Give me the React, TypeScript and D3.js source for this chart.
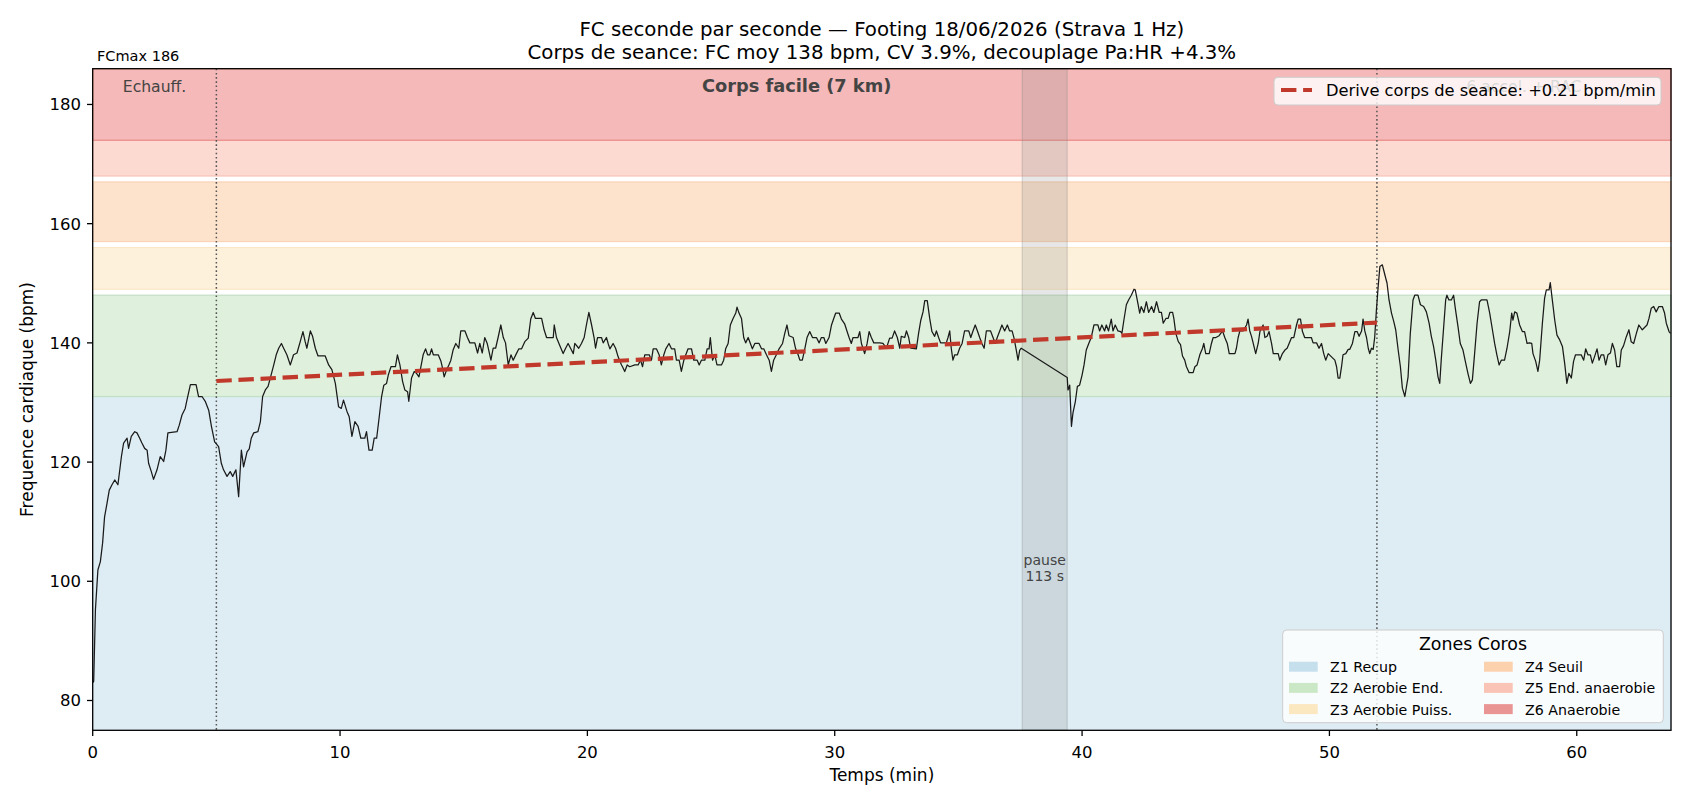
import React from "react";
import * as d3 from "d3";

// ---------- data ----------
const titleLines = [
  "FC seconde par seconde — Footing 18/06/2026 (Strava 1 Hz)",
  "Corps de seance: FC moy 138 bpm, CV 3.9%, decouplage Pa:HR +4.3%",
];
const xDomainMax = 63.81;
const yDomain: [number, number] = [75, 186];
const xTicks = [0, 10, 20, 30, 40, 50, 60];
const yTicks = [80, 100, 120, 140, 160, 180];

const zoneNames = ["Z1 Recup", "Z2 Aerobie End.", "Z3 Aerobie Puiss.", "Z4 Seuil", "Z5 End. anaerobie", "Z6 Anaerobie"];
const zoneLow = [0, 131, 149, 157, 168, 174];
const zoneHigh = [131, 148, 156, 167, 174, 186];
const zoneFill = ["#deedf4", "#dff0dc", "#fdf1dc", "#fde2cc", "#fcd9d1", "#f4b9b8"];
const zoneEdge = ["#d2e5ef", "#c3dfc5", "#fbe6c6", "#fbd3b6", "#f8c4b8", "#ea8c87"];
const zonePatch = ["#c6dfed", "#cbe8c6", "#fbe7c0", "#fcd1ae", "#f9c4b5", "#e99594"];

const sectionLabels = ["Echauff.", "Corps facile (7 km)", "6 accel. + RAC"];
const sectionStart = [0, 5, 51.92];
const sectionEnd = [5, 51.92, 63.81];
const sectionBold = [false, true, false];

const pauseStart = 37.58;
const pauseEnd = 39.4;
const pauseLabel = ["pause", "113 s"];

const driftStart: [number, number] = [5, 133.6];
const driftEnd: [number, number] = [51.92, 143.4];
const driftLabel = "Derive corps de seance: +0.21 bpm/min";

// heart rate readings [minutes, bpm]
const hrWarmup: [number, number][] = [
  [0, 83], [0.04, 83.2], [0.11, 95.2], [0.21, 101.9], [0.31, 103.3], [0.4, 106.4], [0.48, 110.8], [0.58, 113.1],
  [0.67, 115.3], [0.78, 116.2], [0.89, 117.0], [1.02, 116.2], [1.16, 120.9], [1.25, 123.2], [1.39, 124.0],
  [1.45, 122.3], [1.56, 124.3], [1.7, 125.1], [1.79, 124.9], [1.9, 124.0], [1.99, 123.2], [2.1, 122.3],
  [2.2, 122.0], [2.26, 119.8], [2.37, 118.4], [2.46, 117.1], [2.6, 118.7], [2.73, 120.9], [2.87, 120.1],
  [2.96, 122.0], [3.04, 124.9], [3.41, 125.1], [3.5, 126.2], [3.61, 127.9], [3.74, 129.0], [3.81, 130.4],
  [3.95, 133.0], [4.18, 133.0], [4.28, 131.0], [4.42, 131.0], [4.55, 130.2], [4.69, 128.7], [4.8, 126.0],
  [4.93, 123.4],
];
const hrBody1: [number, number][] = [
  [5.09, 122.6], [5.2, 119.8], [5.29, 118.7], [5.43, 117.6], [5.56, 118.4], [5.66, 117.6], [5.79, 118.7],
  [5.9, 114.2], [6.01, 122.0], [6.1, 119.2], [6.24, 121.7], [6.33, 122.2], [6.41, 124.0], [6.51, 124.9],
  [6.68, 125.1], [6.78, 126.8], [6.87, 131.0], [6.98, 132.1], [7.09, 132.7], [7.18, 134.1], [7.32, 136.3],
  [7.42, 138.0], [7.52, 139.1], [7.63, 139.9], [7.72, 139.1], [7.85, 138.0], [7.99, 136.3], [8.12, 138.0],
  [8.26, 138.3], [8.39, 140.2], [8.5, 141.9], [8.59, 140.2], [8.66, 139.1], [8.8, 142.0], [8.89, 141.1],
  [9.0, 139.1], [9.11, 137.8], [9.4, 137.8], [9.54, 136.3], [9.67, 135.5], [9.81, 133.2], [9.94, 129.3],
  [10.05, 129.0], [10.14, 130.4], [10.28, 128.5], [10.37, 127.6], [10.48, 124.3],
  [10.6, 126.8], [10.73, 126.0], [10.84, 124.0], [11.0, 124.0], [11.07, 125.1], [11.17, 122.0], [11.3, 122.0],
  [11.38, 124.0], [11.48, 124.0], [11.57, 127.1], [11.68, 131.0], [11.77, 132.9], [11.88, 133.2], [11.95, 134.6],
  [12.06, 136.0], [12.24, 136.0], [12.32, 138.0], [12.42, 136.3], [12.53, 133.5], [12.62, 132.1], [12.73, 131.8],
  [12.78, 130.2], [12.89, 134.1], [13.0, 135.2], [13.09, 134.9], [13.19, 134.3], [13.27, 136.0], [13.36, 138.0],
  [13.46, 139.0], [13.54, 138.0], [13.63, 138.0], [13.7, 139.0], [13.77, 138.0], [13.97, 138.0], [14.08, 136.9],
  [14.13, 136.0], [14.21, 134.3], [14.31, 135.5], [14.4, 136.3], [14.48, 137.1], [14.57, 138.8], [14.68, 139.9],
  [14.8, 139.1], [14.88, 142.0], [15.05, 142.0], [15.15, 140.9], [15.25, 140.0], [15.45, 140.0], [15.56, 138.3],
  [15.65, 139.9], [15.75, 138.3], [15.85, 140.9], [15.95, 139.9], [16.1, 137.1], [16.19, 139.1], [16.29, 139.1],
  [16.39, 140.9], [16.5, 143.0], [16.6, 140.9], [16.69, 140.0], [16.8, 136.3], [16.91, 138.0], [17.0, 137.1],
  [17.13, 138.2], [17.23, 139.0], [17.34, 139.0], [17.47, 140.2], [17.61, 140.8], [17.71, 144.0], [17.81, 145.1],
  [17.9, 144.1], [18.15, 144.1], [18.25, 142.2], [18.35, 140.9], [18.62, 140.9], [18.66, 143.0], [18.75, 140.9],
  [18.85, 139.9], [18.93, 139.1], [19.02, 138.2], [19.12, 139.1], [19.22, 139.9], [19.33, 139.0], [19.43, 138.2],
  [19.49, 139.9], [19.65, 139.1], [19.76, 139.9], [19.87, 140.9], [19.96, 143.0], [20.06, 145.1], [20.17, 143.0],
  [20.27, 140.9], [20.33, 139.1], [20.41, 140.9], [20.57, 140.9], [20.64, 140.0], [20.77, 140.9], [20.84, 139.9],
  [20.91, 139.0], [21.04, 139.9], [21.14, 139.1], [21.24, 137.7], [21.38, 136.3],
];
const hrBody2: [number, number][] = [
  [21.42, 136.0], [21.51, 135.2], [21.61, 136.3], [21.71, 136.0], [21.92, 136.3], [22.05, 136.3], [22.15, 137.1],
  [22.23, 136.0], [22.32, 138.0], [22.5, 138.0], [22.59, 137.1], [22.66, 139.0], [22.79, 139.0], [22.9, 138.0],
  [22.99, 136.3], [23.09, 138.0], [23.17, 139.0], [23.3, 139.9], [23.4, 139.0], [23.53, 139.0], [23.6, 137.1],
  [23.71, 137.1], [23.8, 135.2], [23.9, 137.1], [23.98, 138.0], [24.07, 139.0], [24.21, 139.0], [24.3, 137.1],
  [24.44, 137.1], [24.52, 136.3], [24.61, 137.1], [24.75, 137.1], [24.84, 139.0], [24.92, 139.0], [24.97, 140.9],
  [25.06, 137.1], [25.15, 138.0], [25.24, 136.3], [25.42, 136.3], [25.51, 137.1], [25.59, 139.0], [25.69, 139.9],
  [25.78, 143.0], [25.89, 144.1], [26.0, 145.0], [26.05, 146.0], [26.13, 145.0], [26.23, 144.1], [26.32, 140.9],
  [26.4, 140.0], [26.5, 140.9], [26.59, 139.9], [26.67, 139.0], [26.77, 139.9], [26.94, 139.9], [27.04, 139.0],
  [27.13, 139.0], [27.24, 138.0], [27.35, 137.1], [27.44, 135.2], [27.53, 137.1], [27.64, 138.0], [27.75, 139.0],
  [27.89, 139.9], [27.98, 141.6], [28.07, 143.0], [28.15, 141.2], [28.32, 140.9], [28.42, 139.0], [28.52, 138.0],
  [28.59, 137.1], [28.69, 137.1], [28.79, 139.0], [28.88, 140.9], [28.99, 141.9], [29.1, 140.9], [29.26, 140.9],
  [29.37, 140.0], [29.46, 140.9], [29.56, 140.9], [29.64, 139.9], [29.77, 140.9], [29.87, 143.0], [29.96, 144.1],
  [30.04, 145.0], [30.18, 145.0], [30.27, 144.0], [30.4, 143.2], [30.5, 141.9], [30.58, 140.9], [30.67, 139.9],
  [30.74, 140.9], [30.94, 140.9], [31.01, 141.9], [31.08, 139.9], [31.21, 138.2], [31.31, 139.9], [31.39, 141.9],
  [31.48, 140.9], [31.58, 140.0], [31.82, 140.0], [31.95, 139.9], [32.09, 139.1],
  [32.22, 140.8], [32.32, 140.8], [32.42, 142.0], [32.53, 140.9], [32.63, 139.1], [32.69, 141.1], [32.83, 140.9],
  [32.9, 142.0], [32.99, 140.9], [33.07, 139.1], [33.3, 139.0], [33.39, 141.6], [33.48, 143.8], [33.57, 145.2],
  [33.64, 147.1], [33.74, 147.1], [33.84, 144.1], [33.93, 141.9], [34.04, 141.1], [34.11, 142.0], [34.2, 140.9],
  [34.28, 140.0], [34.51, 140.0], [34.58, 140.9], [34.65, 142.0], [34.71, 139.1], [34.78, 137.1], [34.85, 138.0],
  [34.96, 138.0], [35.05, 139.1], [35.15, 139.9], [35.25, 142.0], [35.42, 142.0], [35.5, 140.9], [35.59, 142.0],
  [35.68, 143.0], [35.77, 142.0], [35.86, 140.9], [35.95, 139.9], [36.04, 139.1], [36.13, 142.0], [36.3, 142.0],
  [36.4, 140.9], [36.49, 139.9], [36.57, 140.9], [36.67, 142.0], [36.76, 143.0], [36.87, 142.0], [36.98, 143.0],
  [37.07, 142.0], [37.17, 142.0], [37.25, 140.8], [37.34, 138.8], [37.41, 137.1], [37.48, 138.8], [37.54, 139.1],
];
const hrAfterPause: [number, number][] = [
  [39.4, 134.2], [39.43, 132.1], [39.5, 132.9], [39.57, 126.0], [39.63, 128.2], [39.73, 130.2], [39.81, 132.7],
  [39.9, 132.9], [40.0, 134.6], [40.08, 136.3], [40.17, 138.8], [40.27, 139.9], [40.37, 140.9], [40.48, 143.0],
  [40.64, 143.0], [40.71, 142.0], [40.8, 143.0], [40.91, 142.0], [40.98, 143.0], [41.07, 142.0], [41.18, 144.0],
  [41.25, 142.0], [41.34, 143.0], [41.45, 142.0], [41.56, 141.9], [41.61, 141.6], [41.69, 143.8], [41.79, 146.4],
  [41.88, 147.2], [41.99, 148.0], [42.1, 149.0], [42.15, 148.9], [42.23, 147.2], [42.33, 145.0], [42.39, 146.1],
  [42.5, 145.1], [42.6, 146.9], [42.69, 145.1],
  [42.81, 146.1], [42.9, 145.1], [43.01, 146.9], [43.12, 145.1], [43.21, 145.1], [43.28, 143.3], [43.39, 144.1],
  [43.48, 144.1], [43.55, 145.1], [43.66, 145.1], [43.71, 144.1], [43.79, 141.6], [43.89, 140.2], [43.98, 139.7],
  [44.06, 137.8], [44.15, 137.1], [44.22, 136.0], [44.33, 135.0], [44.49, 135.0], [44.56, 136.0], [44.65, 136.3],
  [44.76, 138.0], [44.87, 139.1], [44.92, 139.9], [45.0, 138.2], [45.14, 138.2], [45.23, 139.9], [45.3, 140.9],
  [45.41, 140.9], [45.54, 141.2], [45.68, 142.0], [45.77, 140.9], [45.87, 139.9], [45.95, 138.2], [46.18, 138.2],
  [46.24, 139.1], [46.31, 140.9], [46.38, 142.0], [46.51, 142.0], [46.65, 143.0], [46.71, 144.0], [46.78, 142.0],
  [46.85, 141.1], [46.92, 139.9], [47.02, 138.2], [47.12, 139.9], [47.19, 141.9], [47.32, 143.0], [47.39, 140.9],
  [47.48, 141.1], [47.56, 141.9], [47.66, 139.9], [47.73, 138.2], [47.93, 138.2], [47.99, 137.1], [48.1, 138.2],
  [48.2, 138.8], [48.29, 139.1], [48.37, 139.9], [48.47, 140.9], [48.56, 140.9], [48.67, 143.0], [48.74, 144.0],
  [48.83, 144.0], [48.91, 141.9], [49.0, 140.9], [49.27, 140.9], [49.34, 140.0], [49.48, 140.0], [49.58, 139.1],
  [49.68, 139.9], [49.77, 138.2], [49.85, 137.1], [49.95, 138.2], [50.22, 137.1], [50.29, 136.0], [50.35, 134.1],
  [50.42, 134.1], [50.49, 136.0], [50.55, 138.0], [50.66, 138.2], [50.76, 138.9], [50.82, 138.9], [50.93, 139.9],
  [51.03, 141.9], [51.12, 141.9], [51.2, 141.1], [51.3, 142.0], [51.36, 144.0], [51.43, 142.0], [51.5, 140.9],
  [51.57, 139.1], [51.63, 138.2], [51.7, 139.1], [51.77, 138.9], [51.83, 140.9],
];
const hrAccel: [number, number][] = [
  [51.9, 145.5], [51.97, 149.4], [52.04, 152.8], [52.14, 153.1], [52.2, 152.1], [52.28, 150.8], [52.33, 150.0],
  [52.41, 147.2], [52.51, 145.0], [52.6, 143.6], [52.68, 142.2], [52.78, 138.8], [52.87, 136.0], [52.95, 132.4],
  [53.05, 131.0], [53.18, 134.3], [53.27, 141.6], [53.38, 147.2], [53.45, 148.0], [53.58, 148.0], [53.68, 146.4],
  [53.81, 146.1], [53.92, 145.2], [54.03, 143.3], [54.12, 141.1], [54.21, 139.4], [54.3, 137.1], [54.39, 134.3],
  [54.46, 133.2], [54.52, 137.1], [54.62, 142.7], [54.7, 147.2], [54.75, 148.0], [54.83, 147.2], [54.93, 147.2],
  [55.02, 148.0], [55.1, 145.5], [55.2, 142.7], [55.29, 139.9], [55.4, 138.8], [55.51, 136.6], [55.6, 134.9],
  [55.7, 133.2], [55.78, 133.8], [55.87, 138.2], [55.97, 143.3], [56.07, 146.9], [56.14, 147.2], [56.37, 147.2],
  [56.48, 145.0], [56.59, 142.2], [56.68, 139.9], [56.77, 138.0], [56.86, 136.3], [56.95, 137.1], [57.08, 137.1],
  [57.18, 139.1], [57.29, 141.9], [57.37, 145.0], [57.42, 143.8], [57.49, 145.2], [57.58, 145.0], [57.69, 143.0],
  [57.8, 141.9], [57.89, 141.9], [57.99, 139.9], [58.09, 140.0], [58.18, 139.9], [58.23, 138.2], [58.34, 136.9],
  [58.43, 135.2], [58.5, 137.1], [58.61, 143.3], [58.7, 147.5], [58.77, 148.9], [58.88, 148.9], [58.93, 150.1],
  [58.98, 148.3], [59.11, 143.8], [59.2, 141.3], [59.31, 140.5], [59.42, 139.4], [59.51, 136.6], [59.6, 133.2],
  [59.68, 134.9], [59.78, 134.1], [59.87, 136.9], [59.95, 138.0], [60.18, 138.0], [60.28, 137.1], [60.36, 139.0],
  [60.45, 138.0], [60.55, 138.0], [60.63, 136.6], [60.72, 137.7], [60.82, 139.0], [60.9, 137.1], [60.99, 138.0],
  [61.09, 138.0], [61.17, 136.3], [61.26, 138.0], [61.36, 138.3], [61.44, 139.9], [61.53, 138.8], [61.62, 136.0],
  [61.73, 136.0], [61.8, 138.8], [61.89, 139.5], [62.0, 141.0], [62.11, 142.2], [62.2, 140.2], [62.3, 139.9],
  [62.41, 141.6], [62.51, 143.0], [62.65, 142.2], [62.84, 143.0], [62.92, 144.1], [63.01, 145.8], [63.11, 146.1],
  [63.21, 145.2], [63.32, 146.1], [63.46, 146.1], [63.55, 145.0], [63.62, 143.3], [63.73, 141.9], [63.79, 141.6],
];

const FONT = "DejaVu Sans";

export default function App() {
  const left = 92.7, right = 1671, top = 68.7, bottom = 730.3;
  const x = d3.scaleLinear().domain([0, xDomainMax]).range([left, right]);
  const y = d3.scaleLinear().domain(yDomain).range([bottom, top]);
  const hr = [...hrWarmup, ...hrBody1, ...hrBody2, ...hrAfterPause, ...hrAccel];
  const line = d3.line<[number, number]>().x((d) => x(d[0])).y((d) => y(d[1]));
  const clampY = (v: number) => Math.max(yDomain[0], Math.min(yDomain[1], v));
  const cx = (left + right) / 2;

  return (
    <svg width={1690} height={806} style={{ position: "absolute", left: 0, top: 0, fontFamily: FONT }}>
      <rect x={0} y={0} width={1690} height={806} fill="#ffffff" />
      {/* title */}
      {titleLines.map((t, i) => (
        <text key={i} x={cx} y={35.7 + i * 23.6} textAnchor="middle" fontSize={19.8} fill="#000">{t}</text>
      ))}
      <text x={97} y={60.7} fontSize={14.5} fill="#000">FCmax 186</text>

      {/* zones */}
      {zoneNames.map((z, i) => {
        const y0 = y(clampY(zoneLow[i]));
        const y1 = y(clampY(zoneHigh[i]));
        return (
          <rect key={z} x={left} y={y1} width={right - left} height={y0 - y1}
            fill={zoneFill[i]} stroke={zoneEdge[i]} strokeWidth={1.2} />
        );
      })}

      {/* pause span */}
      <rect x={x(pauseStart)} y={top} width={x(pauseEnd) - x(pauseStart)} height={bottom - top}
        fill="#808080" fillOpacity={0.2} stroke="#808080" strokeOpacity={0.25} strokeWidth={1.3} />

      {/* section separators */}
      {[sectionStart[1], sectionStart[2]].map((s, i) => (
        <line key={i} x1={x(s)} x2={x(s)} y1={top} y2={bottom} stroke="#555" strokeWidth={1.5} strokeDasharray="1.6,2.6" />
      ))}

      {/* HR curve */}
      <path d={line(hr) || ""} fill="none" stroke="#1a1a1a" strokeWidth={1.25} strokeLinejoin="round" />

      {/* drift */}
      <line x1={x(driftStart[0])} y1={y(driftStart[1])} x2={x(driftEnd[0])} y2={y(driftEnd[1])}
        stroke="#c0392b" strokeWidth={4.2} strokeDasharray="15.4,6.7" />

      {/* section labels */}
      {sectionLabels.map((s, i) => (
        <text key={s} x={x((sectionStart[i] + sectionEnd[i]) / 2)} y={91.7} textAnchor="middle"
          fontSize={sectionBold[i] ? 17.8 : 15.6} fontWeight={sectionBold[i] ? "bold" : "normal"} fill="#444">{s}</text>
      ))}

      {/* pause label */}
      {pauseLabel.map((t, i) => (
        <text key={t} x={x((pauseStart + pauseEnd) / 2)} y={565 + i * 16} textAnchor="middle" fontSize={14} fill="#444">{t}</text>
      ))}

      {/* drift legend */}
      <g>
        <rect x={1274} y={77.3} width={387} height={27.7} rx={4} fill="#fff" fillOpacity={0.8} stroke="#cccccc" strokeWidth={1} />
        <line x1={1281} x2={1312} y1={90} y2={90} stroke="#c0392b" strokeWidth={4.2} strokeDasharray="15.4,6.7" />
        <text x={1326} y={95.5} fontSize={16.3} fill="#000">{driftLabel}</text>
      </g>

      {/* zones legend */}
      <g>
        <rect x={1282.7} y={630} width={380.6} height={92.7} rx={4} fill="#fff" fillOpacity={0.8} stroke="#cccccc" strokeWidth={1} />
        <text x={1473} y={650} textAnchor="middle" fontSize={17.4} fill="#000">Zones Coros</text>
        {zoneNames.map((z, i) => {
          const col = Math.floor(i / 3);
          const row = i % 3;
          const px = col === 0 ? 1289 : 1484;
          const py = 661.7 + row * 21.2;
          return (
            <g key={z}>
              <rect x={px} y={py} width={28.7} height={10} fill={zonePatch[i]} />
              <text x={px + 41} y={py + 10.5} fontSize={14.2} fill="#000">{z}</text>
            </g>
          );
        })}
      </g>

      {/* axes */}
      <rect x={left} y={top} width={right - left} height={bottom - top} fill="none" stroke="#000" strokeWidth={1.3} />
      {xTicks.map((t) => (
        <g key={t}>
          <line x1={x(t)} x2={x(t)} y1={bottom} y2={bottom + 5.7} stroke="#000" strokeWidth={1.3} />
          <text x={x(t)} y={757.5} textAnchor="middle" fontSize={16.5} fill="#000">{t}</text>
        </g>
      ))}
      {yTicks.map((t) => (
        <g key={t}>
          <line x1={left - 5.7} x2={left} y1={y(t)} y2={y(t)} stroke="#000" strokeWidth={1.3} />
          <text x={81} y={y(t) + 6} textAnchor="end" fontSize={16.5} fill="#000">{t}</text>
        </g>
      ))}
      <text x={cx} y={781} textAnchor="middle" fontSize={17} fill="#000">Temps (min)</text>
      <text transform={`translate(33, ${(top + bottom) / 2}) rotate(-90)`} textAnchor="middle" fontSize={17} fill="#000">
        Frequence cardiaque (bpm)
      </text>
    </svg>
  );
}
